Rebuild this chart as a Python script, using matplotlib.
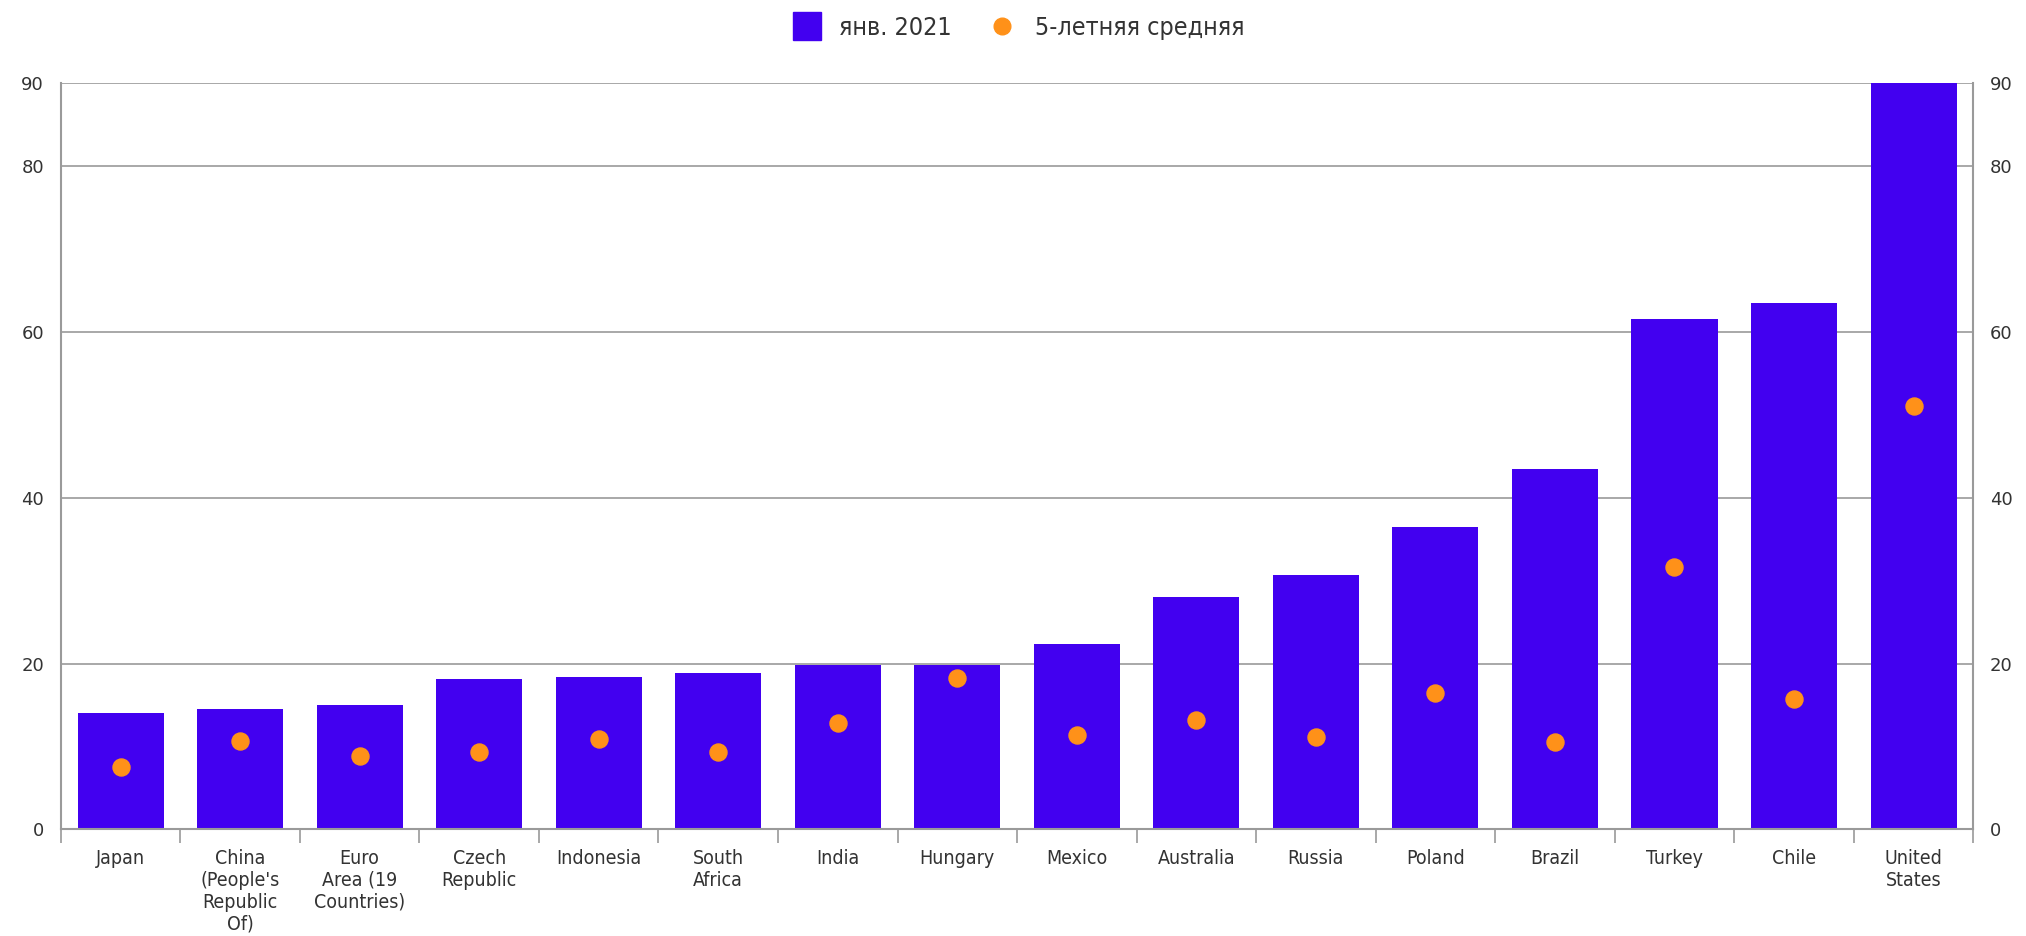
import numpy as np
import matplotlib.pyplot as plt
from matplotlib.lines import Line2D

countries = ["Japan", "China\n(People's\nRepublic\nOf)", "Euro\nArea (19\nCountries)", "Czech\nRepublic",
             "Indonesia", "South\nAfrica", "India", "Hungary", "Mexico", "Australia", "Russia",
             "Poland", "Brazil", "Turkey", "Chile", "United\nStates"]
jan_2021 = [14.0, 14.5, 15.0, 18.1, 18.4, 18.8, 19.8, 19.8, 22.4, 28.0, 30.7, 36.4, 43.4, 61.5, 63.4, 90.0]
avg_5y = [7.5, 10.7, 8.9, 9.3, 10.9, 9.3, 12.8, 18.2, 11.4, 13.2, 11.1, 16.5, 10.6, 31.6, 15.7, 51.1]
yticks = [0, 20, 40, 60, 80, 90]

bar_color = "#4200F0"
dot_color = "#FF9119"
grid_color = "#9A9A9A"
text_color = "#333333"

plt.rcParams['font.family'] = ['DejaVu Sans']

fig = plt.figure(figsize=(20.26, 9.36), dpi=100)
ax = fig.add_axes([0.030, 0.1138, 0.944, 0.7978])

x = np.arange(len(countries))
ax.bar(x, jan_2021, width=0.72, color=bar_color, zorder=2)
ax.scatter(x, avg_5y, s=150, color=dot_color, zorder=3)

ax.set_xlim(-0.5, len(countries) - 0.5)
ax.set_ylim(0, 90)
ax.set_yticks(yticks)
ax.yaxis.grid(True, color=grid_color, linewidth=1.2, zorder=0)
ax.tick_params(axis='y', length=0, labelsize=13, labelcolor=text_color, pad=12,
               right=True, labelright=True)

# category labels centered, ticks at boundaries
ax.set_xticks(x)
ax.set_xticklabels(countries, fontsize=14, color=text_color, linespacing=1.2,
                   fontstretch='condensed')
ax.tick_params(axis='x', which='major', length=0, pad=14)
ax.set_xticks(np.arange(-0.5, len(countries)), minor=True)
ax.tick_params(axis='x', which='minor', length=10, color=grid_color, width=1.2)

for side in ['left', 'right', 'bottom']:
    ax.spines[side].set_color(grid_color)
    ax.spines[side].set_linewidth(1.5)
ax.spines['top'].set_visible(False)

handles = [Line2D([], [], marker='s', linestyle='none', markersize=20, color=bar_color),
           Line2D([], [], marker='o', linestyle='none', markersize=12, color=dot_color)]
fig.legend(handles, ["янв. 2021", "5-летняя средняя"], loc='center', bbox_to_anchor=(0.5, 0.97),
           ncol=2, frameon=False, handletextpad=0.3, columnspacing=1.0,
           labelcolor=text_color, prop={'stretch': 'condensed', 'size': 18})

fig.savefig("out.png", dpi=100)
